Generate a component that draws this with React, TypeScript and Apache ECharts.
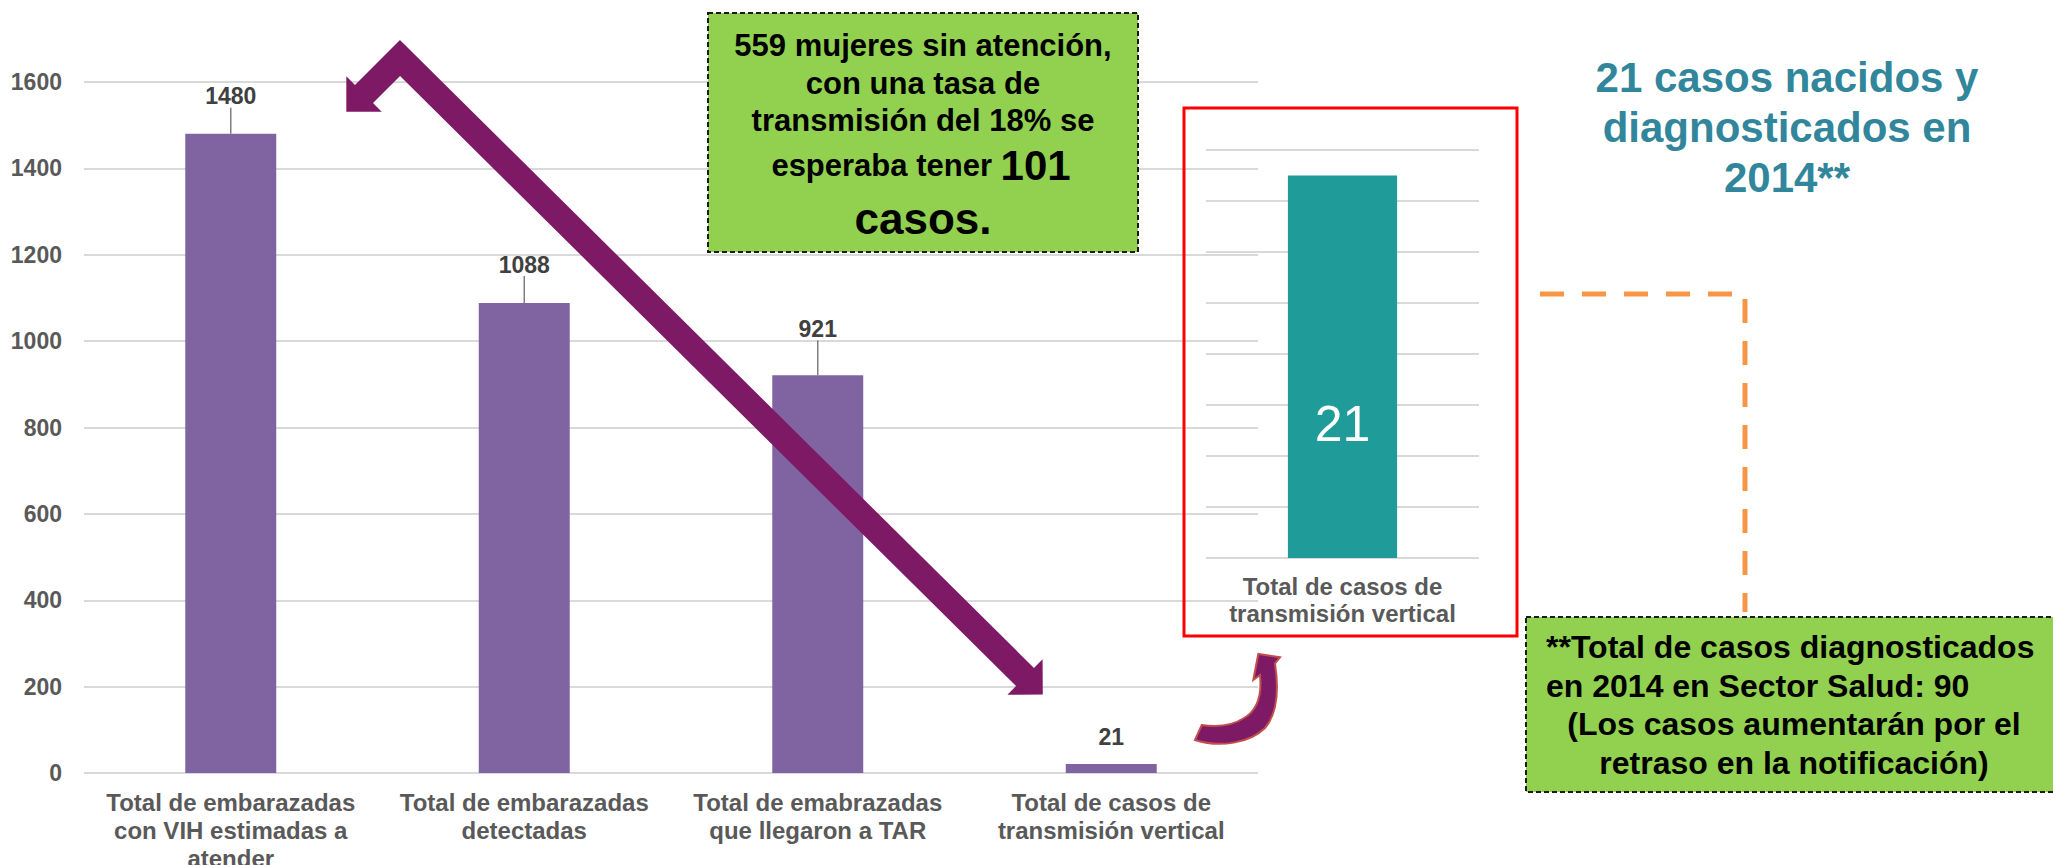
import React, { useEffect, useRef } from "react";
import * as echarts from "echarts";

// ---------- data ----------
const categories = [
  "Total de embarazadas\ncon VIH estimadas a\natender",
  "Total de embarazadas\ndetectadas",
  "Total de emabrazadas\nque llegaron a TAR",
  "Total de casos de\ntransmisión vertical",
];
const values = [1480, 1088, 921, 21];
const yMax = 1600;
const yInterval = 200;

const insetCategories = ["Total de casos de\ntransmisión vertical"];
const insetValues = [21];
const insetMax = 22.4;
const insetInterval = 2.8;

const calloutLines = ["559 mujeres sin atención,", "con una tasa de", "transmisión del 18% se"];
const calloutLine4 = ["esperaba tener ", "101"];
const calloutLine5 = "casos.";

const titleLines = ["21 casos nacidos y", "diagnosticados en", "2014**"];
const noteLeftLines = ["**Total de casos diagnosticados", "en 2014 en Sector Salud: 90"];
const noteCenterLines = ["(Los casos aumentarán por el", "retraso en la notificación)"];

// ---------- styles ----------
const FONT = '"Liberation Sans", Arial, sans-serif';
const PURPLE_BAR = "#8064A2";
const TEAL_BAR = "#1F9C99";
const ARROW = "#7E1A65";
const GRID_LINE = "#D9D9D9";
const labelLift = [21, 22, 30, 10];

const curvedArrowPath =
  "M15,100 C40,108 70,103 85,88 C97,74 99,50 95,23.3 L100,17.3 L78.3,14 L73.3,40 L80,35 C82,55 78,70 64,78 C52,86 36,87 21.7,85 Z";

function bentArrowPoints(): number[][] {
  const A = [400, 58];
  const B1 = [364, 94];
  const B2 = [1025, 677];
  const h = 12.75;
  const H = 25;
  const L = 25;
  const norm = (v: number[]) => {
    const l = Math.hypot(v[0], v[1]);
    return [v[0] / l, v[1] / l];
  };
  const u1 = norm([B1[0] - A[0], B1[1] - A[1]]);
  const u2 = norm([B2[0] - A[0], B2[1] - A[1]]);
  const n1out = [-u1[1], u1[0]];
  const n1in = [u1[1], -u1[0]];
  const n2out = [u2[1], -u2[0]];
  const n2in = [-u2[1], u2[0]];
  const miter = (a: number[], b: number[]) => {
    const d = 1 + a[0] * b[0] + a[1] * b[1];
    return [(a[0] + b[0]) / d, (a[1] + b[1]) / d];
  };
  const add = (p: number[], v: number[], k: number) => [p[0] + v[0] * k, p[1] + v[1] * k];
  const mo = miter(n1out, n2out);
  const mi = miter(n1in, n2in);
  return [
    add(A, mo, h),
    add(B2, n2out, h),
    add(B2, n2out, H),
    add(B2, u2, L),
    add(B2, n2in, H),
    add(B2, n2in, h),
    add(A, mi, h),
    add(B1, n1in, h),
    add(B1, n1in, H),
    add(B1, u1, L),
    add(B1, n1out, H),
    add(B1, n1out, h),
  ];
}

let registered = false;

export default function App() {
  const ref = useRef<HTMLDivElement>(null);

  useEffect(() => {
    if (!ref.current) return;
    if (!registered) {
      echarts.graphic.registerShape("curvedArrow", echarts.graphic.extendPath(curvedArrowPath, {}) as any);
      registered = true;
    }
    const chart = echarts.init(ref.current, null, { renderer: "svg" });

    const mainData = values.map((v, i) => ({
      value: v,
      labelLine: { show: i < values.length - 1 },
    }));

    const graphic: any[] = [
      // big bent arrow
      {
        type: "polygon",
        z: 100,
        shape: { points: bentArrowPoints() },
        style: { fill: ARROW },
      },
      // curved arrow
      {
        type: "curvedArrow",
        x: 1180,
        y: 640,
        scaleX: 1,
        scaleY: 1,
        z: 100,
        style: { fill: ARROW, stroke: "#C0504D", lineWidth: 2 },
      },
      // red frame around inset
      {
        type: "rect",
        z: 40,
        shape: { x: 1184, y: 108, width: 333, height: 528 },
        style: { fill: "none", stroke: "#FF0000", lineWidth: 3 },
      },
      // top green callout
      {
        type: "rect",
        z: 50,
        shape: { x: 708, y: 13, width: 430, height: 239 },
        style: { fill: "#92D050", stroke: "#1A1A1A", lineWidth: 2, lineDash: [5, 3] },
      },
      ...calloutLines.map((t, i) => ({
        type: "text",
        z: 60,
        x: 923,
        y: [45, 83, 120][i],
        style: {
          text: t,
          fill: "#000",
          font: `bold 31px ${FONT}`,
          textAlign: "center",
          textVerticalAlign: "middle",
        },
      })),
      {
        type: "text",
        z: 60,
        x: 921,
        y: 165,
        style: {
          text: `{a|${calloutLine4[0]}}{b|${calloutLine4[1]}}`,
          fill: "#000",
          textAlign: "center",
          textVerticalAlign: "middle",
          rich: {
            a: { fontSize: 31, fontWeight: "bold", fontFamily: FONT, fill: "#000", lineHeight: 48 },
            b: { fontSize: 42, fontWeight: "bold", fontFamily: FONT, fill: "#000", lineHeight: 48 },
          },
        },
      },
      {
        type: "text",
        z: 60,
        x: 923,
        y: 218,
        style: {
          text: calloutLine5,
          fill: "#000",
          font: `bold 44px ${FONT}`,
          textAlign: "center",
          textVerticalAlign: "middle",
        },
      },
      // title on the right
      ...titleLines.map((t, i) => ({
        type: "text",
        z: 60,
        x: 1787,
        y: 77 + i * 50,
        style: {
          text: t,
          fill: "#31869C",
          font: `bold 42px ${FONT}`,
          textAlign: "center",
          textVerticalAlign: "middle",
        },
      })),
      // orange dashed connector
      {
        type: "polyline",
        z: 45,
        shape: { points: [[1540, 294], [1745, 294], [1745, 612]] },
        style: { stroke: "#F79646", lineWidth: 5, lineDash: [24, 18], fill: "none" },
      },
      // bottom-right green note
      {
        type: "rect",
        z: 50,
        shape: { x: 1526, y: 617, width: 540, height: 175 },
        style: { fill: "#92D050", stroke: "#1A1A1A", lineWidth: 2, lineDash: [5, 3] },
      },
      ...noteLeftLines.map((t, i) => ({
        type: "text",
        z: 60,
        x: 1546,
        y: 647 + i * 39,
        style: {
          text: t,
          fill: "#000",
          font: `bold 32px ${FONT}`,
          textAlign: "left",
          textVerticalAlign: "middle",
        },
      })),
      ...noteCenterLines.map((t, i) => ({
        type: "text",
        z: 60,
        x: 1794,
        y: 724 + i * 39,
        style: {
          text: t,
          fill: "#000",
          font: `bold 32px ${FONT}`,
          textAlign: "center",
          textVerticalAlign: "middle",
        },
      })),
    ];

    const option: any = {
      animation: false,
      backgroundColor: "#FFFFFF",
      textStyle: { fontFamily: FONT },
      grid: [
        { left: 84, right: 795, top: 82, bottom: 92, outerBoundsMode: "none", containLabel: false },
        { left: 1206, right: 574, top: 150, bottom: 307, outerBoundsMode: "none", containLabel: false },
      ],
      xAxis: [
        {
          type: "category",
          gridIndex: 0,
          data: categories,
          axisLine: { show: false },
          axisTick: { show: false },
          axisLabel: {
            color: "#595959",
            fontWeight: "bold",
            fontSize: 24,
            lineHeight: 28,
            margin: 15,
            fontFamily: FONT,
            interval: 0,
          },
        },
        {
          type: "category",
          gridIndex: 1,
          data: insetCategories,
          axisLine: { show: false },
          axisTick: { show: false },
          axisLabel: {
            color: "#595959",
            fontWeight: "bold",
            fontSize: 24,
            lineHeight: 27,
            margin: 15,
            fontFamily: FONT,
          },
        },
      ],
      yAxis: [
        {
          type: "value",
          gridIndex: 0,
          min: 0,
          max: yMax,
          interval: yInterval,
          axisLine: { show: false },
          axisTick: { show: false },
          splitLine: { lineStyle: { color: GRID_LINE, width: 2 } },
          axisLabel: {
            color: "#595959",
            fontWeight: "bold",
            fontSize: 23,
            margin: 22,
            fontFamily: FONT,
            formatter: (v: number) => String(v),
          },
        },
        {
          type: "value",
          gridIndex: 1,
          min: 0,
          max: insetMax,
          interval: insetInterval,
          axisLine: { show: false },
          axisTick: { show: false },
          axisLabel: { show: false },
          splitLine: { lineStyle: { color: GRID_LINE, width: 2 } },
        },
      ],
      series: [
        {
          type: "bar",
          xAxisIndex: 0,
          yAxisIndex: 0,
          data: mainData,
          barWidth: "31%",
          itemStyle: { color: PURPLE_BAR },
          label: {
            show: true,
            position: "top",
            distance: 5,
            color: "#404040",
            fontWeight: "bold",
            fontSize: 23,
            fontFamily: FONT,
          },
          labelLine: { show: true, lineStyle: { color: "#7F7F7F", width: 1.5 } },
          labelLayout: (params: any) => ({ dy: -labelLift[params.dataIndex] }),
        },
        {
          type: "bar",
          xAxisIndex: 1,
          yAxisIndex: 1,
          data: insetValues,
          barWidth: "40%",
          itemStyle: { color: TEAL_BAR },
          label: {
            show: true,
            position: ["50%", "65%"],
            align: "center",
            verticalAlign: "middle",
            color: "#FFFFFF",
            fontSize: 50,
            fontFamily: FONT,
          },
        },
      ],
      graphic,
    };

    chart.setOption(option);
    return () => {
      chart.dispose();
    };
  }, []);

  return (
    <div
      ref={ref}
      style={{ position: "fixed", left: 0, top: 0, width: 2053, height: 865, background: "#fff" }}
    />
  );
}
